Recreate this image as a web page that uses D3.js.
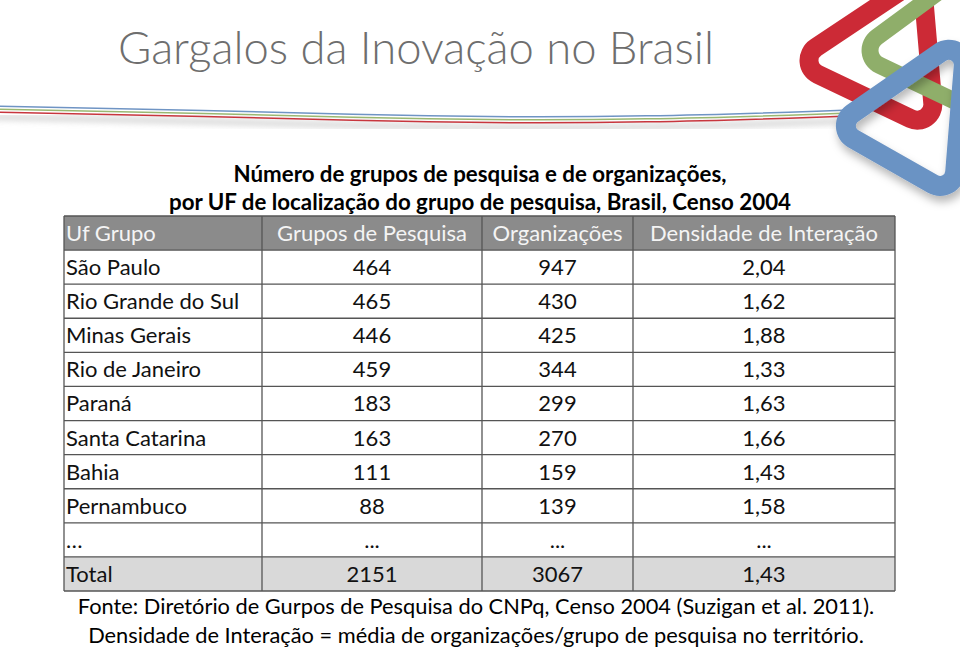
<!DOCTYPE html>
<html lang="pt-BR">
<head>
  <meta charset="UTF-8">
  <title>Gargalos da Inovação no Brasil</title>
  <script src="https://cdn.jsdelivr.net/npm/d3@7"></script>
  <style>
    html, body { margin: 0; padding: 0; background: #fff; }
    svg { display: block; }
  </style>
</head>
<body>
  <div id="chart"></div>

  <script>
    // dados da tabela
    const ufs = ["São Paulo", "Rio Grande do Sul", "Minas Gerais", "Rio de Janeiro",
                 "Paraná", "Santa Catarina", "Bahia", "Pernambuco"];
    const grupos = [464, 465, 446, 459, 183, 163, 111, 88];
    const organizacoes = [947, 430, 425, 344, 299, 270, 159, 139];
    const densidade = [2.04, 1.62, 1.88, 1.33, 1.63, 1.66, 1.43, 1.58];
    const totais = { grupos: 2151, organizacoes: 3067, densidade: 1.43 };
    const cabecalho = ["Uf Grupo", "Grupos de Pesquisa", "Organizações", "Densidade de Interação"];

    const titulo = "Gargalos da Inovação no Brasil";
    const subtitulo = ["Número de grupos de pesquisa e de organizações,",
                       "por UF de localização do grupo de pesquisa, Brasil, Censo 2004"];
    const notas = ["Fonte: Diretório de Gurpos de Pesquisa do CNPq, Censo 2004 (Suzigan et al. 2011).",
                   "Densidade de Interação = média de organizações/grupo de pesquisa no território."];

    const width = 960, height = 648;
    const fonte = "Lato, 'Open Sans', sans-serif";

    const br = d3.formatLocale({ decimal: ",", thousands: ".", grouping: [3], currency: ["R$", ""] });
    const fmtDens = br.format(".2f");

    const svg = d3.select("#chart").append("svg")
      .attr("width", width)
      .attr("height", height);

    const defs = svg.append("defs");
    defs.append("filter").attr("id", "sombra")
      .attr("x", "-30%").attr("y", "-30%").attr("width", "160%").attr("height", "160%")
      .append("feDropShadow")
      .attr("dx", 2).attr("dy", 6).attr("stdDeviation", 4)
      .attr("flood-color", "#000").attr("flood-opacity", 0.28);
    defs.append("filter").attr("id", "blur")
      .append("feGaussianBlur").attr("stdDeviation", 3);

    // linhas onduladas do cabeçalho
    const onda = d3.line().curve(d3.curveBasis);
    const pontosOnda = [[-10, 106], [200, 110], [430, 117], [650, 117], [850, 110]];
    svg.append("path")
      .attr("d", onda(pontosOnda.map(p => [p[0], p[1] + 11])))
      .attr("fill", "none").attr("stroke", "#d0d0d0").attr("stroke-width", 5)
      .attr("filter", "url(#blur)");
    [["#6f94c4", 0], ["#9ab872", 3], ["#c8363e", 6]].forEach(([c, dy]) => {
      svg.append("path")
        .attr("d", onda(pontosOnda.map(p => [p[0], p[1] + dy])))
        .attr("fill", "none").attr("stroke", c).attr("stroke-width", 1.5);
    });

    // logotipo: três triângulos arredondados entrelaçados (faixa = contorno externo - furo interno)
    function contornoArredondado(core, rad) {
      let pts = core.slice();
      if (d3.polygonArea(pts) < 0) pts.reverse();   // anti-horário na tela
      const n = pts.length;
      const seg = pts.map((a, i) => {
        const b = pts[(i + 1) % n];
        const dx = b[0] - a[0], dy = b[1] - a[1], l = Math.hypot(dx, dy);
        const nx = -dy / l, ny = dx / l;             // normal externa
        return [[a[0] + nx * rad, a[1] + ny * rad], [b[0] + nx * rad, b[1] + ny * rad]];
      });
      let d = `M${seg[0][0]}L${seg[0][1]}`;
      for (let i = 1; i <= n; i++) {
        const s = seg[i % n];
        d += `A${rad},${rad} 0 0 0 ${s[0]}` + (i < n ? `L${s[1]}` : "");
      }
      return d + "Z";
    }
    function faixa(tri, R, w) {
      const [a, b, c] = tri;
      const la = Math.hypot(b[0] - c[0], b[1] - c[1]);
      const lb = Math.hypot(c[0] - a[0], c[1] - a[1]);
      const lc = Math.hypot(a[0] - b[0], a[1] - b[1]);
      const p = la + lb + lc;
      const ic = [(la * a[0] + lb * b[0] + lc * c[0]) / p, (la * a[1] + lb * b[1] + lc * c[1]) / p];
      const rho = Math.abs(d3.polygonArea(tri)) / (p / 2);
      const k = (rho - R) / rho;
      const core = tri.map(v => [ic[0] + (v[0] - ic[0]) * k, ic[1] + (v[1] - ic[1]) * k]);
      return contornoArredondado(core, R) + contornoArredondado(core, R - w);
    }
    const logo = svg.append("g");
    logo.append("path")
      .attr("d", faixa([[774, 64], [946, 146], [930, -40]], 25, 19))
      .attr("fill", "#cc2a36").attr("fill-rule", "evenodd");
    logo.append("path")
      .attr("d", faixa([[838, 55], [1000, 132], [992, -58]], 25, 17))
      .attr("fill", "#8fae6a").attr("fill-rule", "evenodd");
    logo.append("path")
      .attr("d", faixa([[814, 128], [962, 212], [978, 14]], 25, 20))
      .attr("fill", "#6b93c4").attr("fill-rule", "evenodd")
      .attr("filter", "url(#sombra)");

    // título
    svg.append("text")
      .attr("x", 118).attr("y", 64)
      .attr("font-family", fonte).attr("font-weight", 300).attr("font-size", 45.4)
      .attr("fill", "#6e6e6e")
      .text(titulo);

    // subtítulo
    svg.selectAll("text.sub")
      .data(subtitulo)
      .join("text")
      .attr("class", "sub")
      .attr("x", 480).attr("y", (d, i) => 182 + i * 28)
      .attr("text-anchor", "middle")
      .attr("font-family", fonte).attr("font-weight", "bold").attr("font-size", 22.3)
      .attr("fill", "#000")
      .text(d => d);

    // tabela
    const linhas = [
      { key: "header", cells: cabecalho, tipo: "header" },
      ...ufs.map((u, i) => ({ key: u, cells: [u, grupos[i], organizacoes[i], fmtDens(densidade[i])], tipo: "body" })),
      { key: "ellipsis", cells: ["…", "...", "...", "..."], tipo: "body" },
      { key: "Total", cells: ["Total", totais.grupos, totais.organizacoes, fmtDens(totais.densidade)], tipo: "total" }
    ];

    const bordas = [64, 262, 482, 633, 895];
    const colunas = d3.pairs(bordas).map(([a, b], i) => ({ i, x0: a, x1: b }));

    const y = d3.scaleBand()
      .domain(linhas.map(d => d.key))
      .range([216, 591])
      .padding(0);

    const preenchimento = { header: "#8b8b8b", body: "#ffffff", total: "#d9d9d9" };

    const tabela = svg.append("g");

    tabela.selectAll("rect.linha")
      .data(linhas)
      .join("rect")
      .attr("class", "linha")
      .attr("x", bordas[0]).attr("y", d => y(d.key))
      .attr("width", bordas[bordas.length - 1] - bordas[0])
      .attr("height", y.bandwidth())
      .attr("fill", d => preenchimento[d.tipo]);

    // linhas horizontais
    tabela.selectAll("line.h")
      .data(linhas.map(d => y(d.key)).concat([y.range()[1]]))
      .join("line")
      .attr("class", "h")
      .attr("x1", bordas[0]).attr("x2", bordas[bordas.length - 1])
      .attr("y1", d => d).attr("y2", d => d)
      .attr("stroke", "#555").attr("stroke-width", 1.3);

    // linhas verticais
    tabela.selectAll("line.v")
      .data(bordas)
      .join("line")
      .attr("class", "v")
      .attr("x1", d => d).attr("x2", d => d)
      .attr("y1", y.range()[0]).attr("y2", y.range()[1])
      .attr("stroke", "#555").attr("stroke-width", 1.3);

    const celulas = tabela.selectAll("g.linha")
      .data(linhas)
      .join("g")
      .attr("class", "linha")
      .attr("transform", d => `translate(0,${y(d.key)})`);

    celulas.selectAll("text")
      .data(d => d.cells.map((c, i) => ({ c, col: colunas[i], tipo: d.tipo })))
      .join("text")
      .attr("x", d => d.col.i === 0 ? d.col.x0 + 2 : (d.col.x0 + d.col.x1) / 2)
      .attr("y", 25)
      .attr("text-anchor", d => d.col.i === 0 ? "start" : "middle")
      .attr("font-family", fonte).attr("font-size", 22)
      .attr("fill", d => d.tipo === "header" ? "#f4f4f4" : "#111")
      .text(d => d.c);

    // notas de rodapé
    svg.selectAll("text.nota")
      .data(notas)
      .join("text")
      .attr("class", "nota")
      .attr("x", 476).attr("y", (d, i) => 614 + i * 29)
      .attr("text-anchor", "middle")
      .attr("font-family", fonte).attr("font-size", 21.8)
      .attr("fill", "#000")
      .text(d => d);
  </script>
</body>
</html>
